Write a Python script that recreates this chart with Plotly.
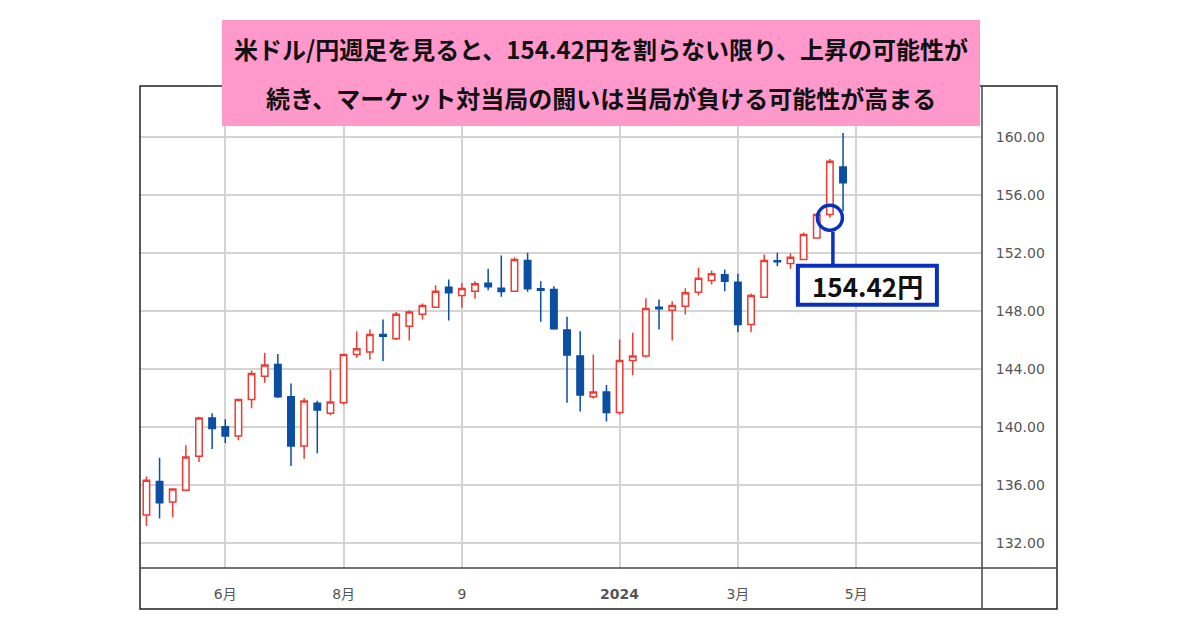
import plotly.graph_objects as go

# weekly USD/JPY candles (week starting Monday)
dates = [
    "2023-04-24", "2023-05-01", "2023-05-08", "2023-05-15", "2023-05-22", "2023-05-29",
    "2023-06-05", "2023-06-12", "2023-06-19", "2023-06-26", "2023-07-03", "2023-07-10",
    "2023-07-17", "2023-07-24", "2023-07-31", "2023-08-07", "2023-08-14", "2023-08-21",
    "2023-08-28", "2023-09-04", "2023-09-11", "2023-09-18", "2023-09-25", "2023-10-02",
    "2023-10-09", "2023-10-16", "2023-10-23", "2023-10-30", "2023-11-06", "2023-11-13",
    "2023-11-20", "2023-11-27", "2023-12-04", "2023-12-11", "2023-12-18", "2023-12-25",
    "2024-01-01", "2024-01-08", "2024-01-15", "2024-01-22", "2024-01-29", "2024-02-05",
    "2024-02-12", "2024-02-19", "2024-02-26", "2024-03-04", "2024-03-11", "2024-03-18",
    "2024-03-25", "2024-04-01", "2024-04-08", "2024-04-15", "2024-04-22", "2024-04-29",
]
opens = [
    133.95, 136.25, 134.85, 135.65, 138.00, 140.63, 140.03, 139.39, 141.91, 143.51,
    144.32, 142.10, 138.70, 141.64, 140.95, 141.68, 145.00, 145.17, 146.38, 146.09,
    146.95, 147.78, 148.26, 149.64, 149.06, 149.36, 149.90, 149.57, 149.36, 151.47,
    149.53, 149.48, 146.68, 144.89, 142.10, 142.42, 141.00, 144.59, 144.89, 148.26,
    148.05, 148.33, 149.29, 150.10, 150.49, 149.98, 147.07, 148.95, 151.45, 151.27,
    151.54, 153.03, 154.64, 157.92,
]
highs = [
    136.60, 137.90, 135.80, 138.75, 140.72, 140.95, 140.54, 141.95, 143.90, 145.12,
    145.03, 143.00, 142.00, 141.82, 143.95, 145.05, 146.60, 146.73, 147.41, 147.92,
    148.05, 148.51, 149.77, 150.17, 149.90, 150.05, 150.90, 151.82, 151.70, 152.00,
    150.05, 149.70, 147.60, 146.60, 145.00, 142.90, 146.04, 146.50, 148.88, 148.79,
    148.67, 149.57, 150.97, 150.78, 150.85, 150.56, 149.20, 151.88, 152.00, 151.98,
    153.40, 154.75, 158.47, 160.25,
]
lows = [
    133.20, 133.70, 133.80, 135.60, 137.60, 138.50, 138.90, 139.10, 141.30, 143.06,
    142.00, 137.33, 137.83, 138.20, 140.81, 141.55, 144.78, 144.66, 144.55, 146.00,
    145.97, 147.41, 148.20, 147.35, 148.22, 148.84, 149.43, 148.98, 149.30, 149.32,
    147.26, 146.70, 141.68, 141.07, 141.96, 140.38, 140.85, 143.58, 144.80, 146.73,
    145.97, 147.76, 149.06, 149.82, 149.36, 146.54, 146.54, 148.90, 151.08, 150.90,
    151.50, 153.00, 154.42, 154.86,
]
closes = [
    136.34, 134.80, 135.74, 137.94, 140.63, 139.90, 139.39, 141.91, 143.70, 144.27,
    142.10, 138.70, 141.80, 141.18, 141.73, 145.00, 145.40, 146.38, 146.25, 147.78,
    147.92, 148.38, 149.36, 149.25, 149.55, 149.87, 149.66, 149.34, 151.54, 149.53,
    149.43, 146.77, 144.96, 142.21, 142.42, 141.00, 144.59, 144.89, 148.17, 148.15,
    148.38, 149.25, 150.26, 150.56, 150.05, 147.07, 149.06, 151.47, 151.38, 151.70,
    153.26, 154.64, 158.30, 156.82,
]

x_tickvals = ["2023-06-05", "2023-08-07", "2023-10-09", "2024-01-01", "2024-03-04", "2024-05-06"]
x_ticktext = ["6月", "8月", "9", "<b>2024</b>", "3月", "5月"]
y_tickvals = [132, 136, 140, 144, 148, 152, 156, 160]

title_lines = [
    "米ドル/円週足を見ると、154.42円を割らない限り、上昇の可能性が",
    "続き、マーケット対当局の闘いは当局が負ける可能性が高まる",
]
support_date = "2024-04-22"
support_level = 154.42
support_text = "154.42円"

RED = "#ee3b33"
BLUE = "#0b4ea2"
CALLOUT = "#0a30c0"
GRID = "#d4d4d4"
FRAME = "#222222"

# the page puts the figure 8px in from the top-left corner,
# so screen positions are shifted back by that amount
PAGE = 8
# plot area on screen: x 140..982, y 86..568
L, R, T, B = 140 - PAGE, 982 - PAGE, 86 - PAGE, 568 - PAGE


def px_x(x):
    return (x - PAGE - L) / (R - L)


def px_y(y):
    return (B - (y - PAGE)) / (B - T)


fig = go.Figure()
fig.add_trace(
    go.Candlestick(
        x=dates,
        open=opens,
        high=highs,
        low=lows,
        close=closes,
        increasing=dict(line=dict(color=RED, width=1.5), fillcolor="white"),
        decreasing=dict(line=dict(color=BLUE, width=1.5), fillcolor=BLUE),
        whiskerwidth=0,
        showlegend=False,
        hoverinfo="skip",
    )
)

fig.update_layout(
    width=1200,
    height=630,
    margin=dict(l=L, r=1200 - R, t=T, b=630 - B),
    paper_bgcolor="white",
    plot_bgcolor="white",
    boxgap=0.3,
    font=dict(family="DejaVu Sans, Noto Sans CJK JP", size=13, color="#555555"),
    xaxis=dict(
        type="date",
        range=["2023-04-20 14:00", "2024-07-12"],
        tickvals=x_tickvals,
        ticktext=x_ticktext,
        showgrid=True,
        gridcolor=GRID,
        gridwidth=1.5,
        ticks="outside",
        ticklen=13,
        tickcolor="rgba(0,0,0,0)",
        tickfont=dict(size=14, color="#555555"),
        showline=False,
        zeroline=False,
        rangeslider=dict(visible=False),
        fixedrange=True,
    ),
    yaxis=dict(
        side="right",
        range=[130.3, 163.49],
        tickvals=y_tickvals,
        tickformat=".2f",
        showgrid=True,
        gridcolor=GRID,
        gridwidth=1.5,
        ticks="outside",
        ticklen=10,
        tickcolor="rgba(0,0,0,0)",
        tickfont=dict(family="DejaVu Sans", size=14, color="#555555"),
        showline=False,
        zeroline=False,
        fixedrange=True,
    ),
)

shapes = [
    # outer frame and axis separators
    dict(type="rect", xref="paper", yref="paper", x0=px_x(140), x1=px_x(1057),
         y0=px_y(609), y1=px_y(86), line=dict(color=FRAME, width=1.5), layer="above"),
    dict(type="line", xref="paper", yref="paper", x0=px_x(982), x1=px_x(982),
         y0=px_y(609), y1=px_y(86), line=dict(color="#444444", width=1.5), layer="above"),
    dict(type="line", xref="paper", yref="paper", x0=px_x(140), x1=px_x(1057),
         y0=px_y(568), y1=px_y(568), line=dict(color="#444444", width=1.5), layer="above"),
    # pink headline box
    dict(type="rect", xref="paper", yref="paper", x0=px_x(222), x1=px_x(980),
         y0=px_y(126), y1=px_y(20), fillcolor="#ff99cc", line=dict(width=0), layer="above"),
    # callout: circle at support, connector and label box
    dict(type="circle", xref="x", yref="y", xsizemode="pixel", ysizemode="pixel",
         xanchor=support_date, yanchor=support_level, x0=-12.5, x1=12.5, y0=-12.5, y1=12.5,
         line=dict(color=CALLOUT, width=3.5), layer="above"),
    dict(type="line", xref="x", yref="y", xsizemode="pixel", ysizemode="pixel",
         xanchor=support_date, yanchor=support_level, x0=3, x1=3, y0=-14, y1=-48,
         line=dict(color=CALLOUT, width=3.5), layer="above"),
    dict(type="rect", xref="x", yref="y", xsizemode="pixel", ysizemode="pixel",
         xanchor=support_date, yanchor=support_level, x0=-32, x1=107, y0=-48, y1=-87,
         fillcolor="white", line=dict(color=CALLOUT, width=4), layer="above"),
]
fig.update_layout(shapes=shapes)

title_font = dict(family="Noto Sans CJK JP", size=24, color="#111111")
for line, ypix in zip(title_lines, [48, 97]):
    fig.add_annotation(
        text=f"<b>{line}</b>",
        xref="paper", yref="paper",
        x=px_x(601), y=px_y(ypix),
        xanchor="center", yanchor="middle",
        showarrow=False,
        font=title_font,
    )

fig.add_annotation(
    text=f"<b>{support_text}</b>",
    xref="x", yref="y",
    x=support_date, y=support_level,
    xshift=37.5, yshift=-67.5,
    xanchor="center", yanchor="middle",
    showarrow=False,
    font=dict(family="Noto Sans CJK JP", size=26, color="#111111"),
)

fig.write_html("out.html")
